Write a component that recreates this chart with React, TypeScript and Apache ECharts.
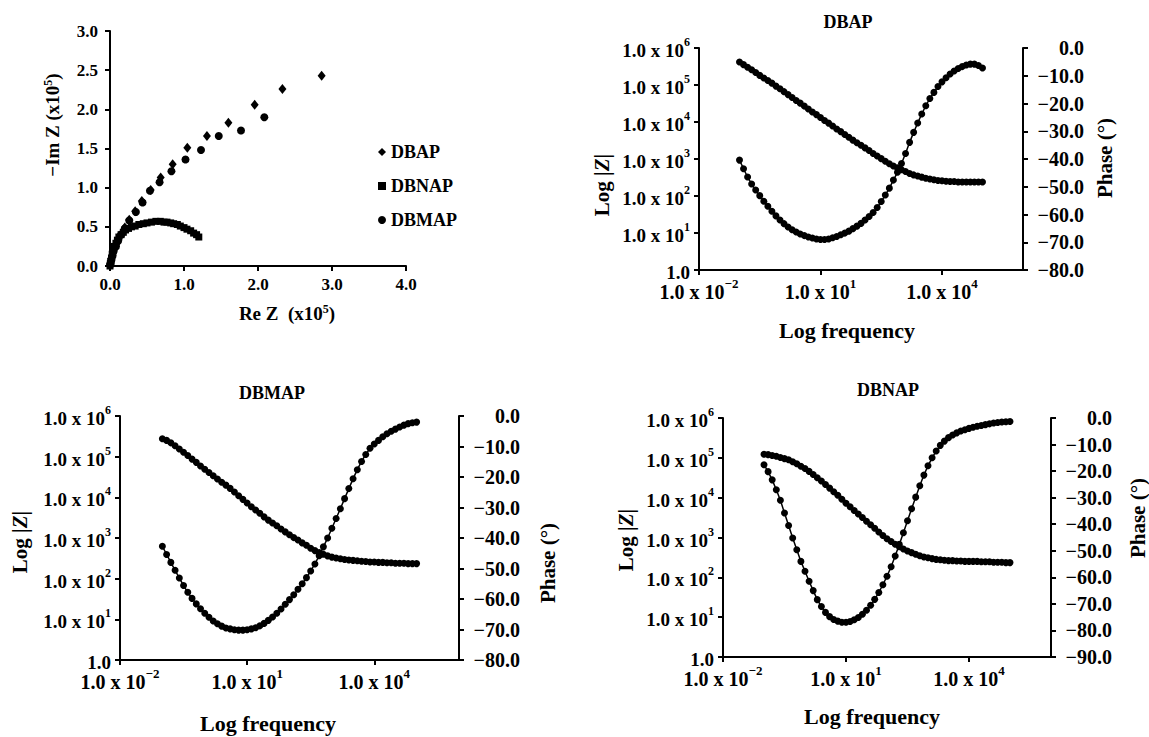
import React, { useEffect, useRef } from 'react';
import * as echarts from 'echarts';

const FONT = "'Liberation Serif', 'Times New Roman', Times, serif";
const INK = '#000';

// ---- Nyquist data: Re Z and -Im Z, both in units of 1e5 ohm ----
const DBAP_RE = [2.86, 2.33, 1.955, 1.6, 1.31, 1.045, 0.847, 0.685, 0.55, 0.43, 0.34, 0.26, 0.2, 0.15, 0.11, 0.08, 0.055, 0.035, 0.02, 0.01, 0.004, 0.0];
const DBAP_IM = [2.43, 2.26, 2.06, 1.83, 1.66, 1.51, 1.3, 1.13, 0.97, 0.83, 0.7, 0.59, 0.49, 0.41, 0.34, 0.27, 0.21, 0.15, 0.1, 0.06, 0.03, 0.01];

const DBNAP_RE = [0.0, 0.005, 0.01, 0.02, 0.03, 0.045, 0.06, 0.08, 0.1, 0.12, 0.15, 0.18, 0.21, 0.25, 0.29, 0.34, 0.39, 0.45, 0.5, 0.56, 0.62, 0.68, 0.73, 0.77, 0.82, 0.86, 0.91, 0.95, 1.0, 1.04, 1.09, 1.13, 1.17, 1.2];
const DBNAP_IM = [0.0, 0.03, 0.06, 0.1, 0.15, 0.2, 0.25, 0.29, 0.33, 0.37, 0.4, 0.43, 0.46, 0.48, 0.5, 0.51, 0.53, 0.54, 0.55, 0.56, 0.57, 0.57, 0.56, 0.56, 0.55, 0.54, 0.53, 0.51, 0.49, 0.47, 0.45, 0.42, 0.4, 0.37];

const DBMAP_RE = [2.085, 1.77, 1.47, 1.23, 1.02, 0.83, 0.67, 0.54, 0.44, 0.35, 0.26, 0.2, 0.15, 0.11, 0.08, 0.05, 0.035, 0.02, 0.01, 0.003];
const DBMAP_IM = [1.9, 1.73, 1.66, 1.48, 1.36, 1.21, 1.07, 0.96, 0.81, 0.69, 0.58, 0.48, 0.4, 0.32, 0.25, 0.19, 0.13, 0.08, 0.04, 0.015];

// ---- Bode data: log10 of frequency (Hz), log10 |Z| and phase (degrees) ----
const LOG_FREQ = [
  -1.0, -0.9, -0.8, -0.7, -0.6, -0.5, -0.4, -0.3, -0.2, -0.1,
  0.0, 0.1, 0.2, 0.3, 0.4, 0.5, 0.6, 0.7, 0.8, 0.9,
  1.0, 1.1, 1.2, 1.3, 1.4, 1.5, 1.6, 1.7, 1.8, 1.9,
  2.0, 2.1, 2.2, 2.3, 2.4, 2.5, 2.6, 2.7, 2.8, 2.9,
  3.0, 3.1, 3.2, 3.3, 3.4, 3.5, 3.6, 3.7, 3.8, 3.9,
  4.0, 4.1, 4.2, 4.3, 4.4, 4.5, 4.6, 4.7, 4.8, 4.9,
  5.0,
];

const DBAP_LOG_Z = [
  5.62, 5.55, 5.48, 5.41, 5.34, 5.26, 5.19, 5.12, 5.05, 4.97,
  4.9, 4.82, 4.74, 4.66, 4.58, 4.51, 4.43, 4.35, 4.27, 4.2,
  4.12, 4.04, 3.97, 3.89, 3.81, 3.74, 3.66, 3.59, 3.51, 3.44,
  3.37, 3.3, 3.23, 3.15, 3.08, 3.01, 2.94, 2.87, 2.81, 2.76,
  2.71, 2.66, 2.61, 2.57, 2.54, 2.51, 2.48, 2.46, 2.44, 2.42,
  2.41, 2.4, 2.39, 2.39, 2.38, 2.38, 2.38, 2.38, 2.38, 2.38,
  2.38,
];
const DBAP_PHASE = [
  -40.4, -43.5, -46.5, -49.0, -51.2, -53.2, -55.2, -57.0, -58.8, -60.5,
  -62.0, -63.3, -64.5, -65.5, -66.3, -67.0, -67.6, -68.1, -68.5, -68.8,
  -69.0, -69.0, -68.8, -68.4, -67.9, -67.3, -66.7, -66.0, -65.1, -64.2,
  -63.2, -62.0, -60.7, -59.3, -57.5, -55.3, -53.0, -50.5, -47.6, -44.8,
  -41.6, -38.0, -34.0, -30.4, -27.0, -23.8, -20.8, -18.2, -16.0, -13.9,
  -12.2, -10.7, -9.4, -8.3, -7.4, -6.7, -6.1, -5.8, -5.8, -6.3,
  -7.2,
];

const DBMAP_LOG_Z = [
  5.44, 5.4, 5.34, 5.27, 5.19, 5.11, 5.03, 4.94, 4.86, 4.77,
  4.69, 4.61, 4.53, 4.45, 4.37, 4.3, 4.22, 4.13, 4.04, 3.95,
  3.86, 3.77, 3.69, 3.61, 3.52, 3.44, 3.37, 3.3, 3.22, 3.15,
  3.08, 3.01, 2.95, 2.88, 2.82, 2.75, 2.69, 2.64, 2.6, 2.56,
  2.53, 2.51, 2.49, 2.47, 2.46, 2.45, 2.44, 2.43, 2.42, 2.41,
  2.41, 2.4, 2.4, 2.39, 2.39, 2.38, 2.38, 2.38, 2.37, 2.37,
  2.37,
];
const DBMAP_PHASE = [
  -42.7, -45.4, -48.0, -50.6, -53.1, -55.6, -57.8, -59.8, -61.6, -63.2,
  -64.7, -66.0, -67.2, -68.1, -68.9, -69.5, -69.8, -70.1, -70.2, -70.2,
  -70.1, -69.8, -69.4, -68.8, -68.0, -67.0, -65.9, -64.7, -63.3, -61.7,
  -60.2, -58.6, -56.8, -55.0, -53.0, -50.8, -48.5, -45.8, -42.9, -40.0,
  -36.8, -33.6, -30.4, -27.1, -23.8, -20.6, -17.6, -14.9, -12.6, -10.6,
  -9.2, -8.0, -6.8, -5.8, -5.0, -4.3, -3.6, -3.0, -2.5, -2.2,
  -2.0,
];

const DBNAP_LOG_Z = [
  5.09, 5.08, 5.06, 5.04, 5.01, 4.98, 4.95, 4.9, 4.85, 4.79,
  4.73, 4.66, 4.58, 4.5, 4.42, 4.33, 4.24, 4.15, 4.06, 3.96,
  3.86, 3.77, 3.68, 3.59, 3.5, 3.41, 3.32, 3.23, 3.14, 3.05,
  2.97, 2.9, 2.83, 2.77, 2.71, 2.66, 2.62, 2.58, 2.54, 2.51,
  2.49, 2.47, 2.45, 2.44, 2.43, 2.42, 2.42, 2.41, 2.41, 2.4,
  2.4, 2.4, 2.4, 2.39, 2.39, 2.39, 2.38, 2.38, 2.38, 2.37,
  2.37,
];
const DBNAP_PHASE = [
  -17.6, -20.2, -23.3, -27.0, -31.0, -35.8, -40.5, -45.2, -49.6, -54.0,
  -57.7, -61.5, -65.0, -68.4, -71.0, -73.2, -74.8, -75.9, -76.5, -76.9,
  -76.9, -76.6, -76.0, -75.1, -73.9, -72.4, -70.5, -68.3, -65.7, -62.8,
  -59.6, -56.0, -52.0, -47.6, -43.2, -38.7, -34.2, -29.8, -25.5, -21.5,
  -18.0, -15.0, -12.4, -10.3, -8.7, -7.4, -6.4, -5.6, -4.9, -4.4,
  -3.9, -3.5, -3.1, -2.8, -2.5, -2.2, -1.9, -1.7, -1.5, -1.4,
  -1.3,
];

// Tick positions (log10 of frequency) that carry a label
const FREQ_TICKS = [-2, 1, 4];

const pairs = (xs: number[], ys: number[]) => xs.map((x, i) => [x, ys[i]]);
const minus = (v: number) => (v < 0 ? '\u2212' + Math.abs(v) : String(v));

const axisLine = { show: true, onZero: false, lineStyle: { color: INK, width: 2 } };
const axisTick = { show: true, length: 5, lineStyle: { color: INK, width: 2 } };
const txt = { fontFamily: FONT, fontWeight: 'bold' as const, color: INK };
const gtxt = { fontFamily: FONT, fontWeight: 'bold' as const, fill: INK };

const powRich = (base: number, sup: number) => ({
  b: { ...txt, fontSize: base, lineHeight: base + 5, verticalAlign: 'bottom' as const },
  s: { ...txt, fontSize: sup, lineHeight: sup + 1, verticalAlign: 'top' as const },
});

function bodeX(gridIndex: number) {
  return {
    type: 'value', gridIndex, min: -2, max: 6, interval: 1,
    axisLine, splitLine: { show: false },
    axisTick: { ...axisTick, customValues: FREQ_TICKS },
    axisLabel: {
      customValues: FREQ_TICKS, margin: 7,
      formatter: (v: number) => (FREQ_TICKS.includes(v) ? `{b|1.0 x 10}{s|${minus(v)}}` : ''),
      rich: powRich(20, 13),
    },
  };
}

function bodeLeft(gridIndex: number) {
  return {
    type: 'value', gridIndex, position: 'left', min: 0, max: 6, interval: 1,
    axisLine, axisTick, splitLine: { show: false },
    axisLabel: {
      margin: 9,
      formatter: (v: number) => (v === 0 ? '{b|1.0}' : `{b|1.0 x 10}{s|${v}}`),
      rich: powRich(19, 12),
    },
  };
}

function bodeRight(gridIndex: number, min: number) {
  return {
    type: 'value', gridIndex, position: 'right', min, max: 0, interval: 10,
    axisLine, axisTick, splitLine: { show: false },
    axisLabel: {
      margin: 9,
      formatter: (v: number) => `{v|${v === 0 ? '0.0' : '\u2212' + Math.abs(v).toFixed(1)}}`,
      rich: { v: { ...txt, fontSize: 20, width: 52, align: 'right' as const } },
    },
  };
}

function bodeSeries(name: string, axis: number, logZ: number[], phase: number[]) {
  const common = {
    type: 'line', xAxisIndex: axis, symbol: 'circle', symbolSize: 7,
    itemStyle: { color: INK, opacity: 1 }, lineStyle: { color: INK, width: 1.5 },
  };
  return [
    { ...common, name: name + ' |Z|', yAxisIndex: axis * 2 - 1, data: pairs(LOG_FREQ, logZ) },
    { ...common, name: name + ' phase', yAxisIndex: axis * 2, data: pairs(LOG_FREQ, phase) },
  ];
}

function label(text: string, x: number, y: number, size: number, rotate = false, rich?: any) {
  return {
    type: 'text', x, y, rotation: rotate ? Math.PI / 2 : 0,
    style: {
      text, ...gtxt, fontSize: size, align: 'center', verticalAlign: 'middle',
      ...(rich ? { rich } : {}),
    },
  };
}

// Superscript raised with bottom padding instead of a taller line box
const supRich = (size: number, sup: number) => ({
  a: { ...gtxt, fontSize: size },
  s: { ...gtxt, fontSize: sup, padding: [0, 0, 9, 0] },
});

const logZRich = (size: number) => ({
  a: { ...gtxt, fontSize: size },
  z: { ...gtxt, fontSize: size, fontStyle: 'italic' },
});

export default function App() {
  const ref = useRef<HTMLDivElement>(null);

  useEffect(() => {
    if (!ref.current) return;
    const chart = echarts.init(ref.current, undefined, { renderer: 'svg' });

    const scatterStyle = { color: INK, opacity: 1 };

    const option: any = {
      animation: false,
      backgroundColor: '#fff',
      textStyle: { fontFamily: FONT },
      grid: [
        { left: 110, top: 31, width: 296, height: 235 },
        { left: 699, top: 48, width: 324, height: 222 },
        { left: 120, top: 416, width: 339, height: 244 },
        { left: 723, top: 418, width: 328, height: 239 },
      ],
      legend: {
        data: ['DBAP', 'DBNAP', 'DBMAP'],
        orient: 'vertical', left: 373, top: 137,
        itemWidth: 8, itemHeight: 8, itemGap: 14,
        textStyle: { ...txt, fontSize: 18, lineHeight: 20 },
      },
      xAxis: [
        {
          type: 'value', gridIndex: 0, min: 0, max: 4, interval: 1,
          axisLine, axisTick, splitLine: { show: false },
          axisLabel: { ...txt, fontSize: 17, margin: 10, formatter: (v: number) => v.toFixed(1) },
        },
        bodeX(1), bodeX(2), bodeX(3),
      ],
      yAxis: [
        {
          type: 'value', gridIndex: 0, min: 0, max: 3, interval: 0.5,
          axisLine, axisTick, splitLine: { show: false },
          axisLabel: { ...txt, fontSize: 17, margin: 12, formatter: (v: number) => v.toFixed(1) },
        },
        bodeLeft(1), bodeRight(1, -80),
        bodeLeft(2), bodeRight(2, -80),
        bodeLeft(3), bodeRight(3, -90),
      ],
      series: [
        { name: 'DBAP', type: 'scatter', xAxisIndex: 0, yAxisIndex: 0, symbol: 'diamond', symbolSize: [8, 10], itemStyle: scatterStyle, data: pairs(DBAP_RE, DBAP_IM) },
        { name: 'DBNAP', type: 'scatter', xAxisIndex: 0, yAxisIndex: 0, symbol: 'rect', symbolSize: 7, itemStyle: scatterStyle, data: pairs(DBNAP_RE, DBNAP_IM) },
        { name: 'DBMAP', type: 'scatter', xAxisIndex: 0, yAxisIndex: 0, symbol: 'circle', symbolSize: 8, itemStyle: scatterStyle, data: pairs(DBMAP_RE, DBMAP_IM) },
        ...bodeSeries('DBAP', 1, DBAP_LOG_Z, DBAP_PHASE),
        ...bodeSeries('DBMAP', 2, DBMAP_LOG_Z, DBMAP_PHASE),
        ...bodeSeries('DBNAP', 3, DBNAP_LOG_Z, DBNAP_PHASE),
      ],
      graphic: [
        // Nyquist axis names
        label('{a|\u2212Im Z (x10}{s|5}{a|)}', 52, 125, 19, true, supRich(19, 12)),
        label('{a|Re Z  (x10}{s|5}{a|)}', 287, 313, 19, false, supRich(19, 12)),
        // Panel titles
        label('DBAP', 848, 22, 18),
        label('DBMAP', 272, 393, 18),
        label('DBNAP', 888, 390, 18),
        // Frequency axis names
        label('Log frequency', 847, 330, 22),
        label('Log frequency', 268, 723, 22),
        label('Log frequency', 872, 716, 22),
        // Impedance axis names
        label('{a|Log |}{z|Z}{a||}', 602, 185, 21, true, logZRich(21)),
        label('{a|Log |}{z|Z}{a||}', 20, 542, 21, true, logZRich(21)),
        label('{a|Log |}{z|Z}{a||}', 626, 540, 21, true, logZRich(21)),
        // Phase axis names
        label('Phase (\u00B0)', 1105, 158, 21, true),
        label('Phase (\u00B0)', 548, 563, 21, true),
        label('Phase (\u00B0)', 1138, 518, 21, true),
      ],
    };

    chart.setOption(option);
    return () => chart.dispose();
  }, []);

  return (
    <div
      ref={ref}
      style={{ position: 'absolute', left: 0, top: 0, width: 1149, height: 737, background: '#fff' }}
    />
  );
}
